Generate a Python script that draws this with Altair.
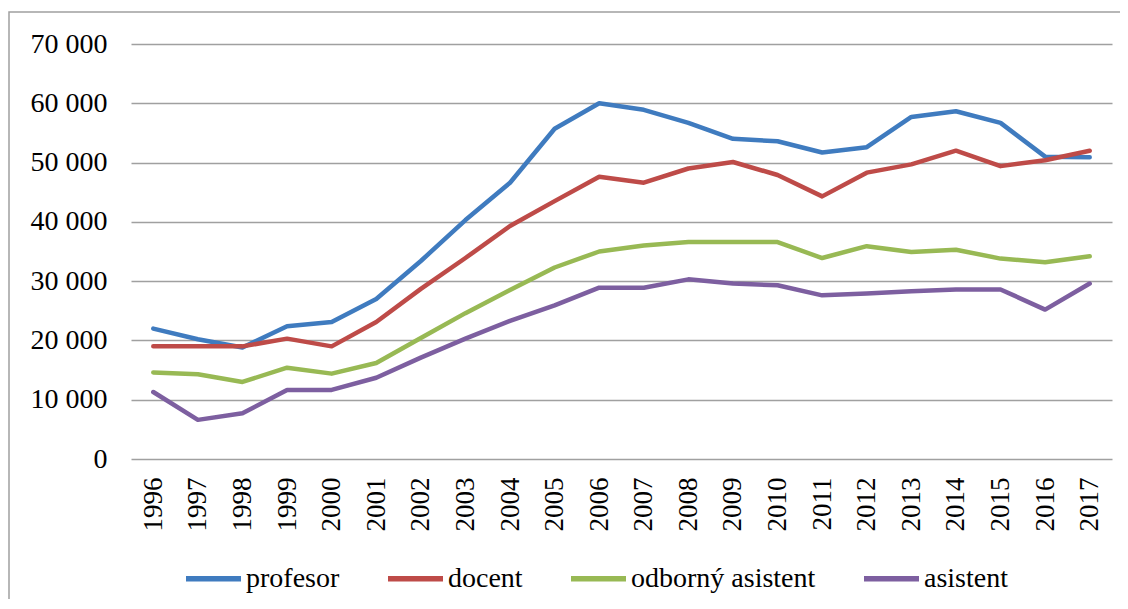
import altair as alt
import pandas as pd

years = [str(y) for y in range(1996, 2018)]
series_names = ["profesor", "docent", "odborný asistent", "asistent"]
profesor = [22000, 20200, 18800, 22400, 23100, 27000, 33400, 40300, 46600, 55700, 60000,
            58900, 56700, 54000, 53600, 51700, 52600, 57700, 58650, 56700, 51000, 50900]
docent = [19000, 19000, 19000, 20300, 19000, 23100, 28700, 33900, 39300, 43500, 47600,
          46600, 49000, 50100, 47900, 44300, 48300, 49700, 52000, 49400, 50400, 52000]
odborny = [14600, 14300, 13000, 15400, 14400, 16200, 20400, 24600, 28500, 32300, 35000,
           36000, 36600, 36600, 36600, 33900, 35900, 34900, 35300, 33800, 33200, 34200]
asistent = [11300, 6600, 7700, 11650, 11650, 13700, 17100, 20300, 23300, 25900, 28900,
            28900, 30300, 29600, 29300, 27600, 27900, 28300, 28600, 28600, 25200, 29600]
colors = ["#3F7BBF", "#BE4B48", "#98B954", "#7D5FA0"]

rows = []
for name, vals in zip(series_names, [profesor, docent, odborny, asistent]):
    for y, v in zip(years, vals):
        rows.append({"rok": y, "hodnota": v, "skupina": name})
df = pd.DataFrame(rows)

FONT = "Times New Roman"

lines = alt.Chart(df).mark_line(strokeWidth=4.5, strokeCap="round", strokeJoin="round").encode(
    x=alt.X("rok:N", sort=years, title=None,
            scale=alt.Scale(paddingInner=0, paddingOuter=0.5),
            axis=alt.Axis(labelAngle=-90, ticks=False, tickSize=0, labelPadding=18,
                          domain=False, grid=False, labelFont=FONT, labelFontSize=27,
                          labelColor="black")),
    y=alt.Y("hodnota:Q", title=None,
            scale=alt.Scale(domain=[0, 70000], nice=False),
            axis=alt.Axis(values=[0, 10000, 20000, 30000, 40000, 50000, 60000, 70000],
                          labelExpr="datum.value == 0 ? '0' : format(datum.value/1000, 'd') + ' 000'",
                          ticks=False, tickSize=0, labelPadding=24, domain=False,
                          grid=True, gridColor="#A0A0A0", gridWidth=1.5,
                          labelFont=FONT, labelFontSize=28, labelColor="black")),
    color=alt.Color("skupina:N", sort=series_names,
                    scale=alt.Scale(domain=series_names, range=colors),
                    legend=alt.Legend(title=None, orient="none", direction="horizontal",
                                      legendX=52, legendY=504,
                                      symbolType="stroke", symbolSize=3025,
                                      symbolStrokeWidth=5.5, labelFont=FONT,
                                      labelFontSize=28, labelColor="black",
                                      labelLimit=400,
                                      labelOffset=2, columnPadding=37)),
)

border = alt.Chart(pd.DataFrame({"a": [0]})).mark_rect(
    fill=None, stroke="#A0A0A0", strokeWidth=1.5
).encode(x=alt.value(-122), x2=alt.value(1010), y=alt.value(-32), y2=alt.value(600))

chart = alt.layer(border, lines).properties(
    width=981, height=415,
    autosize=alt.AutoSizeParams(type="none"),
    padding={"left": 123, "top": 36, "right": 8, "bottom": 140},
).configure(font="Liberation Serif").configure_view(stroke=None)

chart.save("out.html", embed_options={"renderer": "svg", "actions": False})
